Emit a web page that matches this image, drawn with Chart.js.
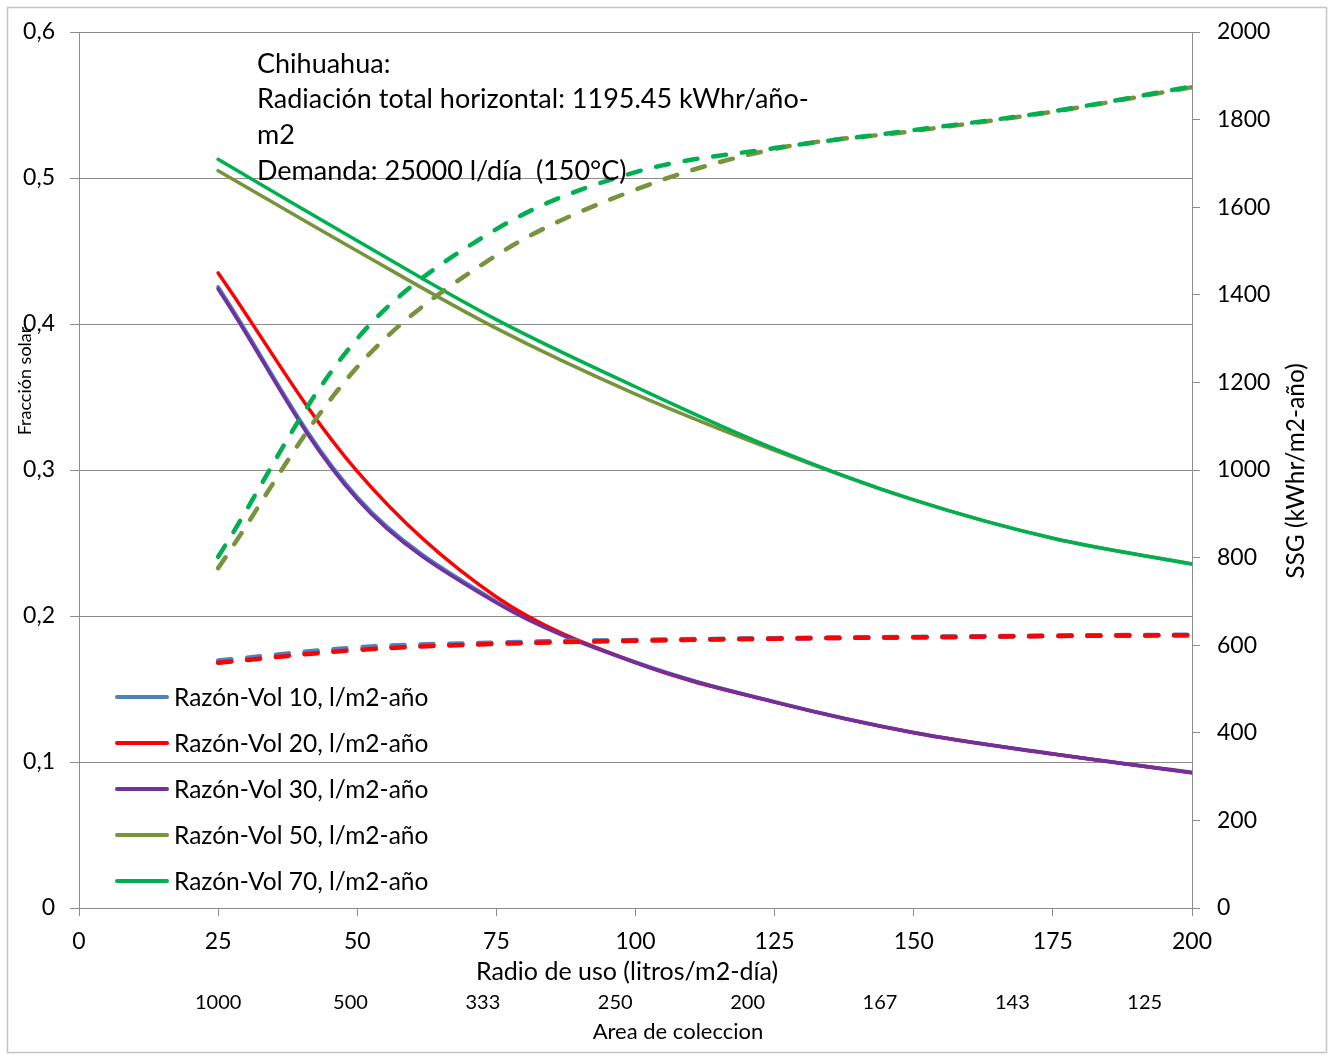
<!DOCTYPE html>
<html>
<head>
<meta charset="utf-8">
<script src="https://cdn.jsdelivr.net/npm/chart.js@4.4.1/dist/chart.umd.min.js"></script>
<style>
  html, body { margin: 0; padding: 0; background: #fff; }
  #wrap { width: 1334px; height: 1057px; position: relative; }
</style>
</head>
<body>
<div id="wrap"><canvas id="c" width="1334" height="1057"></canvas></div>
<script>
// ---- Data ----
const radio = [25, 50, 75, 100, 125, 150, 175, 200];           // Radio de uso (litros/m2-día)
const areaLabels = ['1000', '500', '333', '250', '200', '167', '143', '125']; // Area de coleccion
const seriesNames = [
  'Razón-Vol 10, l/m2-año',
  'Razón-Vol 20, l/m2-año',
  'Razón-Vol 30, l/m2-año',
  'Razón-Vol 50, l/m2-año',
  'Razón-Vol 70, l/m2-año'
];
const seriesColors = ['#4F81BD', '#FF0000', '#7030A0', '#77933C', '#00B050'];

// Fracción solar (left axis, solid lines)
const fraccion10 = [0.4255, 0.2815, 0.2100, 0.1685, 0.1413, 0.1203, 0.1057, 0.0930];
const fraccion20 = [0.4350, 0.2990, 0.2130, 0.1680, 0.1410, 0.1200, 0.1055, 0.0927];
const fraccion30 = [0.4240, 0.2800, 0.2090, 0.1680, 0.1410, 0.1200, 0.1055, 0.0927];
const fraccion50 = [0.5050, 0.4500, 0.3970, 0.3520, 0.3135, 0.2795, 0.2532, 0.2356];
const fraccion70 = [0.5128, 0.4570, 0.4030, 0.3570, 0.3145, 0.2795, 0.2532, 0.2356];

// SSG kWhr/m2-año (right axis, dashed lines)
const ssg10 = [565, 595, 606, 612, 616, 619, 622, 624];
const ssg20 = [560, 589, 603, 610, 615, 618, 621, 623];
const ssg30 = [561, 591, 604, 611, 615, 618, 621, 623];
const ssg50 = [776, 1235, 1490, 1640, 1733, 1774, 1818, 1874];
const ssg70 = [802, 1300, 1550, 1680, 1735, 1776, 1819, 1876];

const annotationLines = [
  'Chihuahua:',
  'Radiación total horizontal: 1195.45 kWhr/año-',
  'm2',
  'Demanda: 25000 l/día  (150°C)'
];
const leftTitle = 'Fracción solar';
const rightTitle = 'SSG (kWhr/m2-año)';
const xTitle = 'Radio de uso (litros/m2-día)';
const x2Title = 'Area de coleccion';

// ---- Build datasets ----
const FONT = 'Lato';
const GRID = '#8c8c8c';
const fracciones = [fraccion10, fraccion20, fraccion30, fraccion50, fraccion70];
const ssgs = [ssg10, ssg20, ssg30, ssg50, ssg70];
const toXY = arr => radio.map((x, i) => ({ x: x, y: arr[i] }));

// drawing sequence, first drawn at bottom
const solidSeq = [0, 1, 2, 3, 4];
const dashSeq = [2, 0, 1, 3, 4];
const datasets = [];
let drawIdx = 0;
const total = solidSeq.length + dashSeq.length;
solidSeq.forEach(k => {
  datasets.push({
    label: seriesNames[k],
    data: toXY(fracciones[k]),
    yAxisID: 'y',
    borderColor: seriesColors[k],
    backgroundColor: seriesColors[k],
    borderWidth: 3.5,
    pointRadius: 0,
    tension: 0.35,
    fill: false,
    borderCapStyle: 'round',
    order: total - (drawIdx++)
  });
});
dashSeq.forEach(k => {
  datasets.push({
    label: seriesNames[k] + ' SSG',
    data: toXY(ssgs[k]),
    yAxisID: 'y2',
    borderColor: seriesColors[k],
    backgroundColor: seriesColors[k],
    borderWidth: 4.5,
    borderDash: [13, 16],
    borderCapStyle: 'round',
    pointRadius: 0,
    tension: 0.35,
    fill: false,
    order: total - (drawIdx++)
  });
});

const overlay = {
  id: 'overlay',
  beforeDraw(chart) {
    const ctx = chart.ctx;
    ctx.save();
    ctx.fillStyle = '#ffffff';
    ctx.fillRect(0, 0, chart.width, chart.height);
    ctx.strokeStyle = '#c4c4c4';
    ctx.lineWidth = 1.5;
    ctx.strokeRect(7.5, 7.5, 1319, 1045);
    ctx.restore();
  },
  afterDraw(chart) {
    const ctx = chart.ctx;
    ctx.save();
    ctx.fillStyle = '#000';
    ctx.textBaseline = 'middle';
    ctx.textAlign = 'left';
    // annotation
    ctx.font = '27px ' + FONT;
    annotationLines.forEach((t, i) => ctx.fillText(t, 257, 64 + i * 35.7));
    // legend
    ctx.font = '24.5px ' + FONT;
    seriesNames.forEach((n, i) => {
      const y = 697 + i * 46;
      ctx.strokeStyle = seriesColors[i];
      ctx.lineWidth = 4;
      ctx.lineCap = 'round';
      ctx.beginPath();
      ctx.moveTo(117, y);
      ctx.lineTo(167, y);
      ctx.stroke();
      ctx.fillText(n, 174, y + 1);
    });
    // x axis titles
    ctx.textAlign = 'center';
    ctx.font = '25px ' + FONT;
    ctx.fillText(xTitle, 627, 972);
    ctx.font = '22px ' + FONT;
    ctx.fillText(x2Title, 678, 1032);
    // left axis title
    ctx.save();
    ctx.translate(25, 381);
    ctx.rotate(-Math.PI / 2);
    ctx.font = '18px ' + FONT;
    ctx.fillText(leftTitle, 0, 0);
    ctx.restore();
    // right axis title
    ctx.save();
    ctx.translate(1296, 471);
    ctx.rotate(-Math.PI / 2);
    ctx.font = '24.5px ' + FONT;
    ctx.fillText(rightTitle, 0, 0);
    ctx.restore();
    ctx.restore();
  }
};

new Chart(document.getElementById('c'), {
  type: 'line',
  data: { datasets: datasets },
  options: {
    responsive: false,
    animation: false,
    layout: { padding: { top: 32, left: 0, right: 0, bottom: 0 } },
    plugins: { legend: { display: false }, tooltip: { enabled: false } },
    scales: {
      x: {
        type: 'linear', position: 'bottom', min: 0, max: 200,
        ticks: { stepSize: 25, color: '#000', font: { family: FONT, size: 23 }, padding: 12, maxRotation: 0, autoSkip: false },
        grid: { drawOnChartArea: false, drawTicks: true, tickLength: 8, color: GRID },
        border: { color: GRID, width: 1 },
        title: { display: false },
        afterFit(s) { s.height = 77; }
      },
      x2: {
        type: 'linear', position: 'bottom', min: 0, max: 200,
        afterBuildTicks(s) {
          const step = (191.5 - 25) / (areaLabels.length - 1);
          s.ticks = areaLabels.map((l, i) => ({ value: 25 + i * step }));
        },
        ticks: { callback: (v, i) => areaLabels[i], color: '#000', font: { family: FONT, size: 20 }, padding: 6, maxRotation: 0, autoSkip: false },
        grid: { display: false, drawTicks: false },
        border: { display: false },
        title: { display: false },
        afterFit(s) { s.height = 72; }
      },
      y: {
        type: 'linear', position: 'left', min: 0, max: 0.6,
        ticks: {
          stepSize: 0.1, color: '#000', font: { family: FONT, size: 23 }, padding: 15,
          callback: v => (Math.abs(v) < 1e-9 ? '0' : v.toFixed(1).replace('.', ','))
        },
        grid: { color: GRID, drawTicks: true, tickLength: 9, lineWidth: 1 },
        border: { color: GRID, width: 1 },
        afterFit(s) { s.width = 79; }
      },
      y2: {
        type: 'linear', position: 'right', min: 0, max: 2000,
        ticks: { stepSize: 200, color: '#000', font: { family: FONT, size: 23 }, padding: 17, callback: v => String(Math.round(v)) },
        grid: { drawOnChartArea: false, drawTicks: true, tickLength: 8, color: GRID },
        border: { color: GRID, width: 1 },
        afterFit(s) { s.width = 142; }
      }
    }
  },
  plugins: [overlay]
});
</script>
</body>
</html>
